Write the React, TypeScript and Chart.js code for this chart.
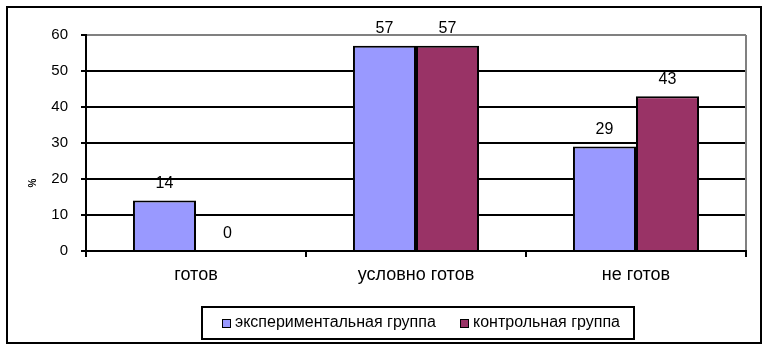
import React, { useEffect, useRef } from "react";
import { Chart, registerables } from "chart.js";

Chart.register(...registerables);

const categories = ["готов", "условно готов", "не готов"];
const seriesNames = ["экспериментальная группа", "контрольная группа"];
const experimental = [14, 57, 29];
const control = [0, 57, 43];
const yTicks = [0, 10, 20, 30, 40, 50, 60];
const colors = ["#9999FF", "#993366"];
const FONT = "'Liberation Sans', Arial, sans-serif";

const framePlugin = {
  id: "frame",
  beforeDraw(chart: any) {
    const ctx = chart.ctx;
    ctx.save();
    ctx.fillStyle = "#ffffff";
    ctx.fillRect(0, 0, chart.width, chart.height);
    ctx.restore();
  },
  afterDraw(chart: any) {
    const ctx = chart.ctx;
    const a = chart.chartArea;
    ctx.save();
    // gray plot border right
    ctx.strokeStyle = "#808080";
    ctx.lineWidth = 2;
    ctx.beginPath();
    ctx.moveTo(a.right, a.top);
    ctx.lineTo(a.right, a.bottom - 1);
    ctx.stroke();
    // outer border
    ctx.strokeStyle = "#000000";
    ctx.lineWidth = 2;
    ctx.strokeRect(7, 7, 754, 336);
    // value labels
    ctx.fillStyle = "#000";
    ctx.font = `16px ${FONT}`;
    ctx.textAlign = "center";
    ctx.textBaseline = "middle";
    chart.data.datasets.forEach((ds: any, di: number) => {
      const meta = chart.getDatasetMeta(di);
      meta.data.forEach((bar: any, i: number) => {
        ctx.fillText(String(ds.data[i]), bar.x, bar.y - 17);
      });
    });
    // y title glyph
    ctx.save();
    ctx.translate(33, 183);
    ctx.rotate(-Math.PI / 2);
    ctx.font = `bold 10px ${FONT}`;
    ctx.fillText("%", 0, 0);
    ctx.restore();
    // legend
    const lx = 202, ly = 307, lw = 432, lh = 32;
    ctx.lineWidth = 2;
    ctx.strokeStyle = "#000";
    ctx.strokeRect(lx, ly, lw, lh);
    const items = [
      { sx: 222, tx: 235 },
      { sx: 460, tx: 473 },
    ];
    ctx.font = `16px ${FONT}`;
    ctx.textAlign = "left";
    ctx.textBaseline = "middle";
    chart.data.datasets.forEach((ds: any, di: number) => {
      const it = items[di];
      ctx.fillStyle = ds.backgroundColor;
      ctx.fillRect(it.sx, 319, 8, 8);
      ctx.lineWidth = 1;
      ctx.strokeRect(it.sx + 0.5, 319.5, 8, 8);
      ctx.fillStyle = "#000";
      ctx.fillText(ds.label, it.tx, 323);
    });
    ctx.restore();
  },
};

export default function App() {
  const ref = useRef<HTMLCanvasElement>(null);
  useEffect(() => {
    if (!ref.current) return;
    const chart = new Chart(ref.current, {
      type: "bar",
      data: {
        labels: categories,
        datasets: [
          {
            label: seriesNames[0],
            data: experimental,
            backgroundColor: colors[0],
            borderColor: "#000",
            borderWidth: 2,
            categoryPercentage: 0.573,
            barPercentage: 1,
          },
          {
            label: seriesNames[1],
            data: control,
            backgroundColor: colors[1],
            borderColor: "#000",
            borderWidth: 2,
            categoryPercentage: 0.573,
            barPercentage: 1,
          },
        ],
      },
      options: {
        responsive: false,
        animation: false,
        layout: { padding: { top: 35, right: 20, left: 0, bottom: 0 } },
        plugins: { legend: { display: false }, tooltip: { enabled: false } },
        scales: {
          x: {
            afterFit: (s: any) => {
              s.height = 99;
            },
            grid: {
              offset: true,
              drawOnChartArea: false,
              color: "#000",
              tickColor: "#000",
              lineWidth: 2,
              tickLength: 6,
            },
            border: { color: "#000", width: 2 },
            ticks: {
              color: "#000",
              font: { family: FONT, size: 18 },
              padding: 7,
            },
          },
          y: {
            min: 0,
            max: 60,
            afterFit: (s: any) => {
              s.width = 86;
            },
            afterBuildTicks: (s: any) => {
              s.ticks = yTicks.map((v) => ({ value: v }));
            },
            grid: {
              color: (c: any) => (c.tick && c.tick.value === 60 ? "#808080" : "#000"),
              tickColor: "#000",
              lineWidth: 2,
              tickLength: 5,
            },
            border: { color: "#000", width: 2 },
            ticks: {
              color: "#000",
              font: { family: FONT, size: 15 },
              padding: 13,
            },
          },
        },
      },
      plugins: [framePlugin],
    });
    return () => chart.destroy();
  }, []);
  return (
    <div style={{ position: "absolute", left: 0, top: 0, width: 766, height: 350 }}>
      <canvas ref={ref} width={766} height={350} />
    </div>
  );
}
